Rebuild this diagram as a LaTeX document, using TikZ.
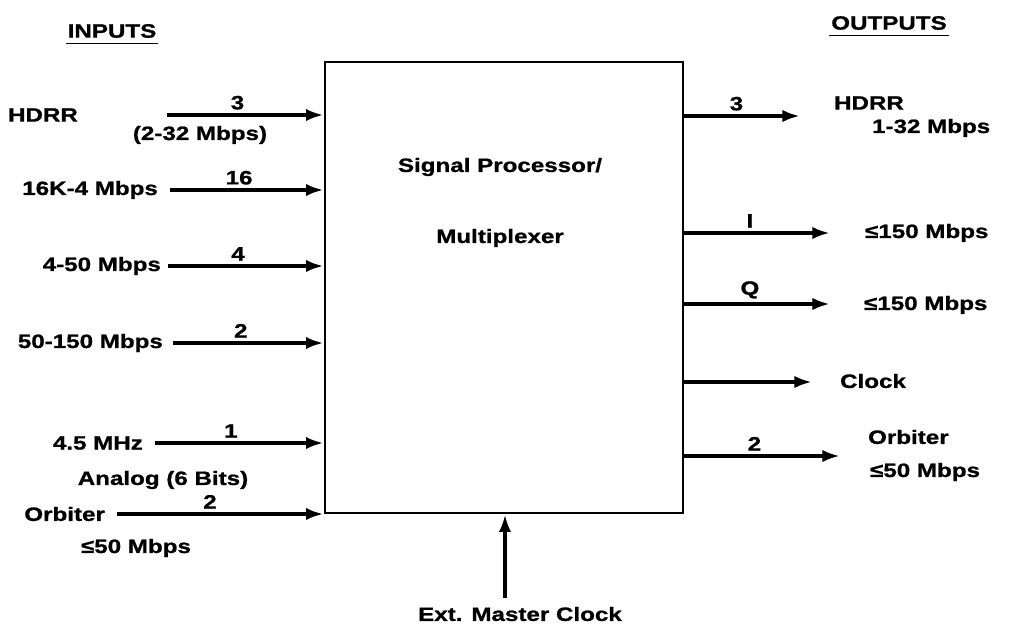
\documentclass[tikz,border=0pt]{standalone}
\usepackage{fontspec}
\setmainfont{Liberation Sans}[FakeStretch=1.25,BoldFeatures={FakeBold=1}]
\usetikzlibrary{arrows.meta}
\tikzset{
  sig/.style={line width=2.2pt,-{Latex[length=10pt,width=7pt]}},
  lbl/.style={font=\fontsize{11}{13}\selectfont\bfseries,inner sep=1pt},
  cnt/.style={lbl,above,inner sep=2pt}
}
\begin{document}
\begin{tikzpicture}[x=0.02cm,y=-0.02cm]
\useasboundingbox (0,0) rectangle (1031,631);

% Block
\node[draw,line width=1.6pt,minimum width=7.16cm,minimum height=9.02cm,inner sep=0pt] (box) at (504,287.5) {};
\node[lbl] (title1) at (500,167) {Signal Processor/};
\node[lbl] (title2) at (500,238) {Multiplexer};

% Headings
\node[lbl] (inputs) at (112,31) {INPUTS};
\draw[line width=1pt] ([yshift=-2pt]inputs.south west) -- ([yshift=-2pt]inputs.south east);
\node[lbl] (outputs) at (889,23) {OUTPUTS};
\draw[line width=1pt] ([yshift=-2pt]outputs.south west) -- ([yshift=-2pt]outputs.south east);

% Inputs
\foreach \i/\lx/\ax/\y/\txt/\n in {
1/80/167/115/HDRR/3,
2/160/170/190/16K-4 Mbps/16,
3/163/168/266/4-50 Mbps/4,
4/165/173/343/50-150 Mbps/2,
5/145/155/443/4.5 MHz/1,
6/107/117/514/Orbiter/2
}
{
\node[lbl,anchor=east] (in\i) at (\lx,\y) {\txt};
\coordinate (a\i) at (\ax,\y);
\draw[sig] (a\i) -- node[cnt,pos=0.45] {\n} (a\i -| box.west);
}

\node[lbl] (in1b) at (200,135) {(2-32 Mbps)};
\node[lbl] (in5b) at (163,480) {Analog (6 Bits)};
\node[lbl] (in6b) at (136,548) {≤50 Mbps};

% Outputs
\foreach \i/\y/\ex/\n in {
1/116/800/3,
2/233/830/I,
3/304/830/Q,
4/382/812/{},
5/456/840/2
}
{
\coordinate (o\i) at (\ex,\y);
\draw[sig] (o\i -| box.east) -- node[cnt,pos=0.45] {\n} (o\i);
}

\node[lbl,anchor=west] (out1) at (832,103) {HDRR};
\node[lbl,anchor=west] (out1b) at (870,128) {1-32 Mbps};
\node[lbl,anchor=west] (out2) at (863,233) {≤150 Mbps};
\node[lbl,anchor=west] (out3) at (862,305) {≤150 Mbps};
\node[lbl,anchor=west] (out4) at (838,381) {Clock};
\node[lbl,anchor=west] (out5) at (866,437) {Orbiter};
\node[lbl,anchor=west] (out5b) at (868,472) {≤50 Mbps};

% Master clock
\node[lbl] (mclk) at (520,614) {Ext. Master Clock};
\coordinate (mc) at (505,598);
\draw[sig] (mc) -- (mc |- box.south);

\end{tikzpicture}
\end{document}
